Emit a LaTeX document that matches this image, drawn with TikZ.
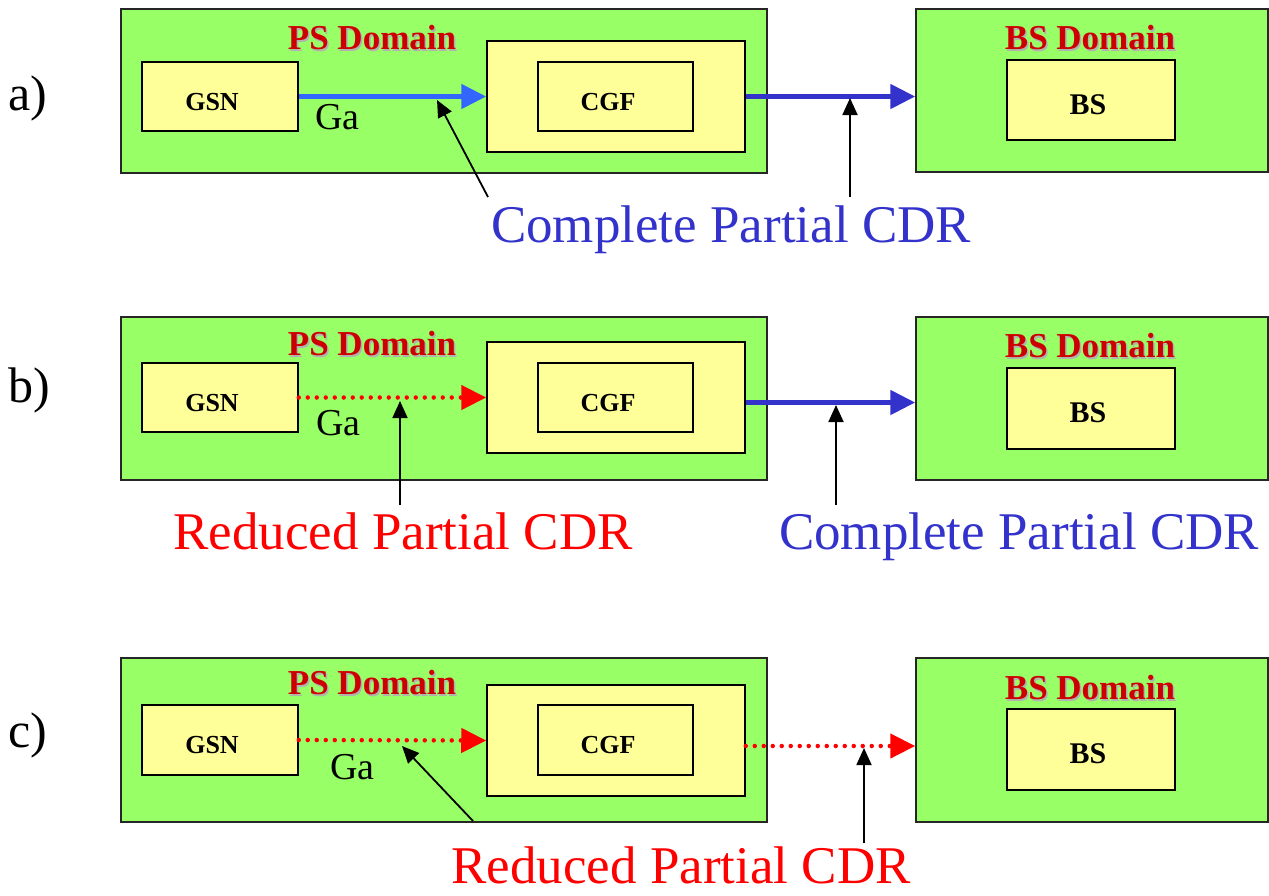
\documentclass[tikz,border=0pt]{standalone}
\usepackage{fontspec}
\setmainfont{Liberation Serif}
\usetikzlibrary{arrows.meta}
\definecolor{dgreen}{HTML}{99FF66}
\definecolor{lyellow}{HTML}{FFFF99}
\definecolor{titred}{HTML}{CC0000}
\definecolor{lblue}{HTML}{3366FF}
\definecolor{dblue}{HTML}{3333CC}
\definecolor{rred}{HTML}{FF0000}
\tikzset{
  dombox/.style={draw=black!85, line width=1.5pt, fill=dgreen, inner sep=0pt},
  unitbox/.style={draw=black, line width=1.5pt, fill=lyellow, inner sep=0pt},
  unittext/.style={anchor=base, inner sep=0pt, font=\fontsize{26}{28}\selectfont\bfseries},
  bstext/.style={anchor=base, inner sep=0pt, font=\fontsize{30}{34}\selectfont\bfseries},
  titletext/.style={text=titred, font=\fontsize{35}{40}\selectfont\bfseries, inner sep=0pt},
  shadowtext/.style={text=black!30, font=\fontsize{35}{40}\selectfont\bfseries, inner sep=0pt},
  panellbl/.style={font=\fontsize{50}{56}\selectfont, inner sep=0pt},
  galbl/.style={anchor=base west, font=\fontsize{38}{42}\selectfont, inner sep=0pt},
  cdrlbl/.style={anchor=base, font=\fontsize{53}{60}\selectfont, inner sep=0pt},
  fullarrow/.style={line width=5pt, -{Triangle[length=25pt,width=24pt]}},
  dotarrow/.style={rred, line width=4.5pt, dash pattern=on 0pt off 9pt, line cap=round,
     -{Triangle[length=25pt,width=24pt,line cap=butt]}},
  pointer/.style={black, line width=1.8pt, -{Triangle[length=17pt,width=15pt]}}
}
\begin{document}
\begin{tikzpicture}[x=1pt,y=-1pt]
\useasboundingbox (0,0) rectangle (1269,895);
% ---------------- panel a ----------------
\node[panellbl] (la) at (28,98) {a)};
\node[dombox, minimum width=646pt, minimum height=164pt] (psa) at (444,91) {};
\node[shadowtext] at (373.5,39.5) {PS Domain};
\node[titletext] (psta) at (372,38) {PS Domain};
\node[unitbox, minimum width=156pt, minimum height=69pt] (gsna) at (220,96.5) {};
\node[unittext] (gsnta) at (212,110) {GSN};
\node[unitbox, minimum width=258pt, minimum height=111pt] (cgfoa) at (616,96.5) {};
\node[unitbox, minimum width=155pt, minimum height=69pt] (cgfa) at (615.5,96.5) {};
\node[unittext] (cgfta) at (608,110) {CGF};
\node[dombox, minimum width=352pt, minimum height=163pt] (bsa) at (1092,90.5) {};
\node[shadowtext] at (1091.5,39.5) {BS Domain};
\node[titletext] (bsta) at (1090,38) {BS Domain};
\node[unitbox, minimum width=168pt, minimum height=80pt] (bsia) at (1091,100) {};
\node[bstext] (bsta2) at (1088,114) {BS};
\node[galbl] (gaa) at (315,129) {Ga};
\draw[fullarrow, lblue] (gsna.east) -- (cgfoa.west);
\draw[fullarrow, dblue] (cgfoa.east) -- (cgfoa.east -| bsa.west);
\node[cdrlbl, text=dblue] (cdra) at (731,242) {Complete Partial CDR};
\coordinate (pa1s) at (488,197);
\coordinate (pa1e) at (437,100);
\coordinate (pa2s) at (850,197);
\coordinate (pa2e) at (850,98);
\draw[pointer] (pa1s) -- (pa1e);
\draw[pointer] (pa2s) -- (pa2e);
% ---------------- panel b ----------------
\node[panellbl] (lb) at (29,390) {b)};
\node[dombox, minimum width=646pt, minimum height=163pt] (psb) at (444,398.5) {};
\node[shadowtext] at (373.5,345.5) {PS Domain};
\node[titletext] (pstb) at (372,344) {PS Domain};
\node[unitbox, minimum width=156pt, minimum height=69pt] (gsnb) at (220,397.5) {};
\node[unittext] (gsntb) at (212,411) {GSN};
\node[unitbox, minimum width=258pt, minimum height=111pt] (cgfob) at (616,397.5) {};
\node[unitbox, minimum width=155pt, minimum height=69pt] (cgfb) at (615.5,397.5) {};
\node[unittext] (cgftb) at (608,411) {CGF};
\node[dombox, minimum width=352pt, minimum height=163pt] (bsb) at (1092,398.5) {};
\node[shadowtext] at (1091.5,347.5) {BS Domain};
\node[titletext] (bstb) at (1090,346) {BS Domain};
\node[unitbox, minimum width=168pt, minimum height=81pt] (bsib) at (1091,408.5) {};
\node[bstext] (bstb2) at (1088,422) {BS};
\node[galbl] (gab) at (316,435) {Ga};
\draw[dotarrow] (gsnb.east) -- (cgfob.west);
\draw[fullarrow, dblue] ([yshift=-5pt]cgfob.east) -- ([yshift=-5pt]cgfob.east -| bsb.west);
\node[cdrlbl, text=rred] (cdrb1) at (403,549) {Reduced Partial CDR};
\node[cdrlbl, text=dblue] (cdrb2) at (1019,549) {Complete Partial CDR};
\coordinate (pb1s) at (400,505);
\coordinate (pb1e) at (400,401);
\coordinate (pb2s) at (836,505);
\coordinate (pb2e) at (836,405);
\draw[pointer] (pb1s) -- (pb1e);
\draw[pointer] (pb2s) -- (pb2e);
% ---------------- panel c ----------------
\node[panellbl] (lc) at (28,735) {c)};
\node[dombox, minimum width=646pt, minimum height=164pt] (psc) at (444,740) {};
\node[shadowtext] at (373.5,684.5) {PS Domain};
\node[titletext] (pstc) at (372,683) {PS Domain};
\node[unitbox, minimum width=156pt, minimum height=70pt] (gsnc) at (220,740) {};
\node[unittext] (gsntc) at (212,753) {GSN};
\node[unitbox, minimum width=258pt, minimum height=111pt] (cgfoc) at (616,740.5) {};
\node[unitbox, minimum width=155pt, minimum height=70pt] (cgfc) at (615.5,740) {};
\node[unittext] (cgftc) at (608,753) {CGF};
\node[dombox, minimum width=352pt, minimum height=164pt] (bsc) at (1092,740) {};
\node[shadowtext] at (1091.5,689.5) {BS Domain};
\node[titletext] (bstc) at (1090,688) {BS Domain};
\node[unitbox, minimum width=168pt, minimum height=81pt] (bsic) at (1091,749.5) {};
\node[bstext] (bstc2) at (1088,763) {BS};
\node[galbl] (gac) at (330,779) {Ga};
\draw[dotarrow] (gsnc.east) -- (cgfoc.west);
\draw[dotarrow] ([yshift=-5.5pt]cgfoc.east) -- ([yshift=-5.5pt]cgfoc.east -| bsc.west);
\node[cdrlbl, text=rred] (cdrc) at (681,883) {Reduced Partial CDR};
\coordinate (pc1s) at (473,821);
\coordinate (pc1e) at (402,746);
\coordinate (pc2s) at (864,843);
\coordinate (pc2e) at (864,748);
\draw[pointer] (pc1s) -- (pc1e);
\draw[pointer] (pc2s) -- (pc2e);
\end{tikzpicture}
\end{document}
